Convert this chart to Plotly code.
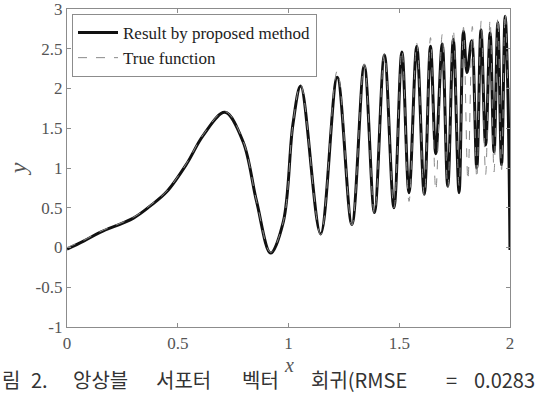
import plotly.graph_objects as go

# Result by proposed method (solid)
x_est = [0.0, 0.075, 0.149, 0.30, 0.375, 0.45, 0.54, 0.615, 0.713, 0.795, 0.856, 0.919, 0.977, 1.02,
         1.055, 1.145, 1.22, 1.286, 1.342, 1.388, 1.433, 1.476, 1.512, 1.544, 1.579, 1.613,
         1.641, 1.665, 1.694, 1.719, 1.744, 1.77, 1.79, 1.806, 1.827, 1.85, 1.869, 1.89,
         1.91, 1.928, 1.945, 1.962, 1.978, 1.99, 2.0]
y_est = [-0.02, 0.08, 0.19, 0.37, 0.52, 0.70, 1.05, 1.41, 1.70, 1.33, 0.58, -0.07, 0.33, 1.55,
         2.03, 0.17, 2.14, 0.29, 2.29, 0.44, 2.42, 0.50, 2.46, 0.69, 2.53, 0.67,
         2.53, 1.18, 2.56, 0.77, 2.62, 0.69, 2.72, 2.20, 2.60, 1.00, 2.74, 1.29,
         2.70, 1.20, 2.83, 1.04, 2.91, 2.00, -0.03]

# True function (dashed)
x_true = [0.0, 0.075, 0.149, 0.30, 0.375, 0.45, 0.54, 0.615, 0.713, 0.795, 0.856, 0.919, 0.977, 1.02,
          1.055, 1.145, 1.22, 1.286, 1.342, 1.388, 1.433, 1.476, 1.512, 1.544, 1.579, 1.613,
          1.641, 1.665, 1.694, 1.719, 1.744, 1.77, 1.79, 1.81, 1.83, 1.85, 1.87, 1.89,
          1.91, 1.928, 1.945, 1.962, 1.978, 1.99]
y_true = [0.0, 0.09, 0.20, 0.38, 0.53, 0.71, 1.06, 1.42, 1.71, 1.34, 0.58, -0.06, 0.33, 1.55,
          2.05, 0.16, 2.22, 0.28, 2.31, 0.43, 2.44, 0.50, 2.48, 0.58, 2.57, 0.65,
          2.64, 0.72, 2.68, 0.75, 2.74, 0.78, 2.77, 0.85, 2.78, 0.87, 2.85, 0.92,
          2.86, 0.95, 2.90, 0.98, 2.95, 2.0]

x_ticks = [0, 0.5, 1, 1.5, 2]
x_ticktext = ["0", "0.5", "1", "1.5", "2"]
y_ticks = [-1, -0.5, 0, 0.5, 1, 1.5, 2, 2.5, 3]
y_ticktext = ["-1", "-0.5", "0", "0.5", "1", "1.5", "2", "2.5", "3"]
caption_words = ["림", "2.", "앙상블", "서포터", "벡터", "회귀(RMSE", "=", "0.0283"]
caption_px = [0, 29, 71, 154, 240, 309, 444, 472]

W, H = 553, 398
ml, mr, mt, mb = 67, 43, 9, 71
pw = W - ml - mr
ph = H - mt - mb

fig = go.Figure()
fig.add_trace(go.Scatter(x=x_est, y=y_est, mode="lines", name="Result by proposed method",
                         line=dict(color="#111111", width=3, shape="spline", smoothing=1.0)))
fig.add_trace(go.Scatter(x=x_true, y=y_true, mode="lines", name="True function",
                         line=dict(color="#8a8a8a", width=1, dash="dash", shape="spline", smoothing=1.0)))

axis_common = dict(showgrid=False, zeroline=False, showline=True, linecolor="#8c8c8c",
                   linewidth=1.2, mirror="ticks", ticks="inside", ticklen=4,
                   tickcolor="#8c8c8c", ticklabeloverflow="allow",
                   tickfont=dict(family="Liberation Serif", size=17, color="#555555"))

fig.update_xaxes(range=[0, 2], tickvals=x_ticks, ticktext=x_ticktext, **axis_common)
fig.update_yaxes(range=[-1, 3], tickvals=y_ticks, ticktext=y_ticktext,
                 title=dict(text="<i>y</i>", font=dict(family="Liberation Serif", size=24, color="#555555"), standoff=2),
                 **axis_common)

# x-axis title placed as text just under the tick labels
fig.add_annotation(text="<i>x</i>", xref="paper", yref="paper", x=0.5, y=(H - mb - 365) / ph,
                   xanchor="center", yanchor="middle", showarrow=False,
                   font=dict(family="Liberation Serif", size=20, color="#555555"))

for word, px in zip(caption_words, caption_px):
    fig.add_annotation(text=word, xref="paper", yref="paper",
                       x=(px - ml) / pw, y=(H - mb - 396) / ph, xanchor="left", yanchor="bottom",
                       showarrow=False, font=dict(family="Noto Sans CJK KR", size=20, color="#333333"))

fig.update_layout(
    width=W, height=H, margin=dict(l=ml, r=mr, t=mt, b=mb, autoexpand=False),
    paper_bgcolor="white", plot_bgcolor="white",
    legend=dict(x=(72 - ml) / pw, y=(H - mb - 14) / ph, xanchor="left", yanchor="top",
                bgcolor="white", bordercolor="#8c8c8c", borderwidth=1,
                font=dict(family="Liberation Serif", size=17, color="#222222"),
                itemwidth=40, tracegroupgap=0),
    showlegend=True,
)

fig.write_html("out.html")
